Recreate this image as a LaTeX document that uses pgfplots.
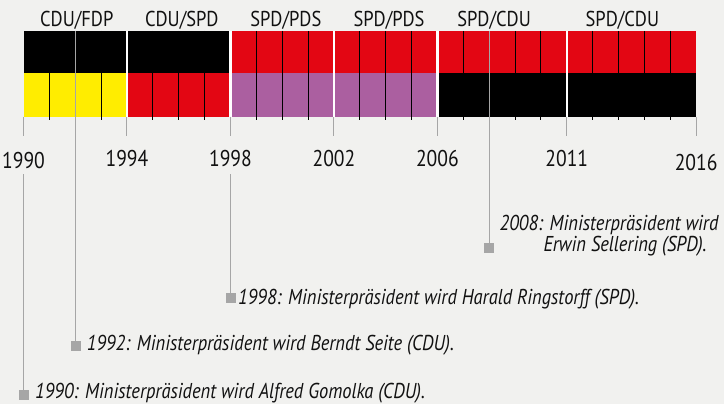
\documentclass[border=0pt]{standalone}
\usepackage{fontspec}
\setmainfont{PT Sans}[FakeStretch=0.86]
\usepackage{pgfplots}
\pgfplotsset{compat=1.18}
\definecolor{bg}{HTML}{F1F1EF}
\definecolor{spd}{HTML}{E30613}
\definecolor{fdp}{HTML}{FFED00}
\definecolor{pds}{HTML}{AB5FA0}
\definecolor{grid}{HTML}{8C8C8C}
\definecolor{ann}{HTML}{A6A6A6}
\definecolor{txt}{HTML}{111111}
\begin{document}
\begin{tikzpicture}
\begin{axis}[
  scale only axis, width=724pt, height=404pt,
  xmin=1989.0916, xmax=2017.0777,
  ymin=0, ymax=404, y dir=reverse,
  hide axis, clip=false,
]
\fill[bg] (rel axis cs:0,0) rectangle (rel axis cs:1,1);
% top row
\addplot[fill=black, draw=none] coordinates {(1990,31) (1998,31) (1998,73) (1990,73)};
\addplot[fill=spd, draw=none] coordinates {(1998,31) (2016,31) (2016,73) (1998,73)};
% bottom row
\addplot[fill=fdp, draw=none] coordinates {(1990,73) (1994,73) (1994,117) (1990,117)};
\addplot[fill=spd, draw=none] coordinates {(1994,73) (1998,73) (1998,117) (1994,117)};
\addplot[fill=pds, draw=none] coordinates {(1998,73) (2006,73) (2006,117) (1998,117)};
\addplot[fill=black, draw=none] coordinates {(2006,73) (2016,73) (2016,117) (2006,117)};
% minor lines
\pgfplotsinvokeforeach{1991,1993,1995,1996,1997,1999,2000,2001,2003,2004,2005,2007,2009,2010,2012,2013,2014,2015}{
  \addplot[grid, line width=1pt] coordinates {(#1,31) (#1,120)};
}
% major lines
\pgfplotsinvokeforeach{1994,1998,2002,2006,2011}{
  \addplot[white, line width=2.5pt] coordinates {(#1,31) (#1,117)};
}
\pgfplotsinvokeforeach{1990,1994,1998,2002,2006,2011,2016}{
  \addplot[ann, line width=1pt] coordinates {(#1,117) (#1,136)};
}
% annotation lines
\addplot[ann, line width=1pt] coordinates {(1990,174) (1990,395)};
\addplot[ann, line width=1pt] coordinates {(1992,31) (1992,346)};
\addplot[ann, line width=1pt] coordinates {(1998,174) (1998,298)};
\addplot[ann, line width=1pt] coordinates {(2008,31) (2008,248)};
\addplot[only marks, mark=square*, mark size=4.5pt, color=ann] coordinates {(1990,395) (1992,346) (1998,298) (2008,248)};
% coalition labels
\begin{scope}[every node/.style={text=txt, font=\fontsize{21.5}{26}\selectfont, anchor=base, inner sep=0pt}]
\node at (axis cs:1992.06,27) {CDU/FDP};
\node at (axis cs:1996.12,27) {CDU/SPD};
\node at (axis cs:2000.14,27) {SPD/PDS};
\node at (axis cs:2004.13,27) {SPD/PDS};
\node at (axis cs:2008.19,27) {SPD/CDU};
\node at (axis cs:2013.15,27) {SPD/CDU};
\end{scope}
% year labels
\begin{scope}[every node/.style={text=txt, font=\fontsize{22.8}{27}\selectfont, anchor=base, inner sep=0pt}]
\node at (axis cs:1990,168) {1990};
\node at (axis cs:1994,167) {1994};
\node at (axis cs:1998,167) {1998};
\node at (axis cs:2002,167) {2002};
\node at (axis cs:2006,167) {2006};
\node at (axis cs:2011,167) {2011};
\node at (axis cs:2016,171) {2016};
\end{scope}
% annotations
\begin{scope}[every node/.style={text=txt, font=\fontsize{21.5}{26}\selectfont\itshape, anchor=base west, inner sep=0pt}]
\node at (axis cs:{1990+(35-23.5)/25.87},398) {1990: Ministerpräsident wird Alfred Gomolka (CDU).};
\node at (axis cs:{1990+(86.7-23.5)/25.87},350) {1992: Ministerpräsident wird Berndt Seite (CDU).};
\node at (axis cs:{1990+(238-23.5)/25.87},304) {1998: Ministerpräsident wird Harald Ringstorff (SPD).};
\node at (axis cs:{1990+(499.5-23.5)/25.87},230) {2008: Ministerpräsident wird};
\node at (axis cs:{1990+(543.3-23.5)/25.87},251.7) {Erwin Sellering (SPD).};
\end{scope}
\end{axis}
\end{tikzpicture}
\end{document}
